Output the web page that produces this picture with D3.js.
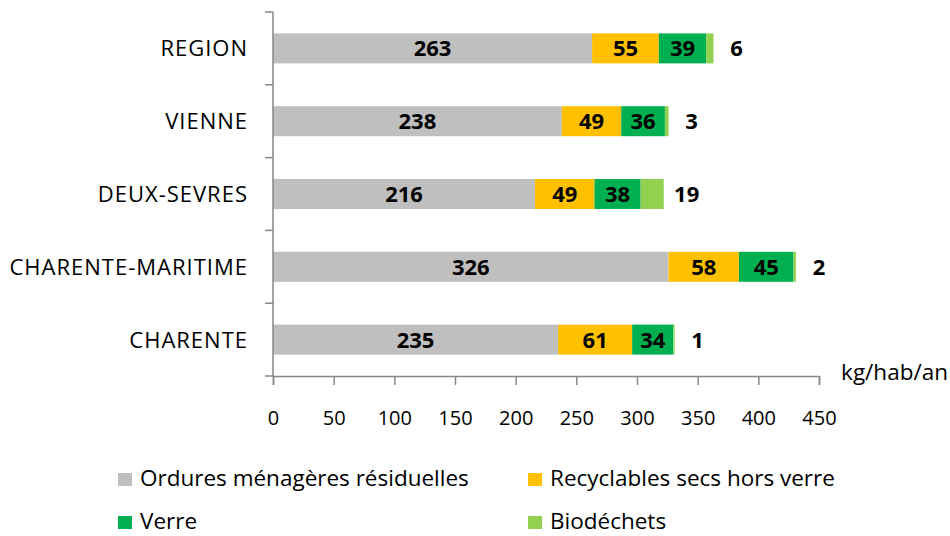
<!DOCTYPE html>
<html>
<head>
<meta charset="utf-8">
<script src="https://cdn.jsdelivr.net/npm/d3@7"></script>
<style>
  body { margin: 0; background: #fff; }
  text { font-family: "Open Sans", "Noto Sans", sans-serif; }
</style>
</head>
<body>
<div id="chart"></div>
<script>
const categories = ["REGION", "VIENNE", "DEUX-SEVRES", "CHARENTE-MARITIME", "CHARENTE"];
const ordures = [263, 238, 216, 326, 235];
const recyclables = [55, 49, 49, 58, 61];
const verre = [39, 36, 38, 45, 34];
const biodechets = [6, 3, 19, 2, 1];
const seriesNames = ["Ordures ménagères résiduelles", "Recyclables secs hors verre", "Verre", "Biodéchets"];
const colors = ["#BFBFBF", "#FFC000", "#00B050", "#92D050"];
const xTicks = [0, 50, 100, 150, 200, 250, 300, 350, 400, 450];
const unitLabel = "kg/hab/an";

const W = 950, H = 536;
const svg = d3.select("#chart").append("svg").attr("width", W).attr("height", H);

const x = d3.scaleLinear().domain([0, 450]).range([273, 819]);
const y = d3.scaleBand().domain(categories).range([12, 376]).paddingInner(0.588).paddingOuter(0.294);

const data = categories.map((c, i) => ({
  cat: c, s0: ordures[i], s1: recyclables[i], s2: verre[i], s3: biodechets[i]
}));
const keys = ["s0", "s1", "s2", "s3"];
const stacked = d3.stack().keys(keys)(data);

const axisColor = "#868686";

// bars
const g = svg.append("g");
g.selectAll("g.series").data(stacked).enter().append("g")
  .attr("fill", (d, i) => colors[i])
  .selectAll("rect").data(d => d).enter().append("rect")
  .attr("x", d => x(d[0]))
  .attr("width", d => x(d[1]) - x(d[0]))
  .attr("y", d => y(d.data.cat))
  .attr("height", y.bandwidth());

// value labels
stacked.forEach((s, i) => {
  g.selectAll(null).data(s).enter().append("text")
    .attr("x", d => i === 3 ? x(d[1]) + 23 : (x(d[0]) + x(d[1])) / 2)
    .attr("y", d => y(d.data.cat) + y.bandwidth() / 2)
    .attr("dy", "0.36em")
    .attr("text-anchor", "middle")
    .attr("font-size", 22)
    .attr("font-weight", "bold")
    .attr("fill", "#000")
    .text(d => d.data["s" + i]);
});

// y axis
const yStep = (376 - 12) / categories.length;
const yAxisG = svg.append("g");
yAxisG.append("line").attr("x1", x(0)).attr("x2", x(0)).attr("y1", 12).attr("y2", 376)
  .attr("stroke", axisColor).attr("stroke-width", 1.5);
d3.range(categories.length + 1).forEach(k => {
  yAxisG.append("line").attr("x1", x(0) - 8).attr("x2", x(0))
    .attr("y1", 12 + k * yStep).attr("y2", 12 + k * yStep)
    .attr("stroke", axisColor).attr("stroke-width", 1.5);
});
yAxisG.selectAll("text.cat").data(categories).enter().append("text")
  .attr("x", 248)
  .attr("y", d => y(d) + y.bandwidth() / 2)
  .attr("dy", "0.36em")
  .attr("text-anchor", "end")
  .attr("font-size", 22)
  .attr("letter-spacing", 1)
  .attr("fill", "#000")
  .text(d => d);

// x axis
const xAxis = d3.axisBottom(x).tickValues(xTicks).tickSize(9).tickPadding(26);
const xg = svg.append("g").attr("transform", "translate(0,376)").call(xAxis);
xg.select(".domain").attr("stroke", axisColor).attr("stroke-width", 1.5);
xg.selectAll(".tick line").attr("stroke", axisColor).attr("stroke-width", 1.5);
xg.selectAll(".tick text").attr("font-size", 20).attr("fill", "#000")
  .attr("font-family", "'Open Sans', 'Noto Sans', sans-serif");

svg.append("text").attr("x", 948).attr("y", 380).attr("text-anchor", "end")
  .attr("font-size", 22.5).attr("fill", "#000").text(unitLabel);

// legend
const legendPos = [[118, 486], [528, 486], [118, 529], [528, 529]];
seriesNames.forEach((n, i) => {
  const lg = svg.append("g").attr("transform", `translate(${legendPos[i][0]},${legendPos[i][1]})`);
  lg.append("rect").attr("x", 0).attr("y", -13).attr("width", 14).attr("height", 13).attr("fill", colors[i]);
  lg.append("text").attr("x", 22).attr("y", 0).attr("font-size", 22.5)
    .attr("fill", "#000").text(n);
});
</script>
</body>
</html>
